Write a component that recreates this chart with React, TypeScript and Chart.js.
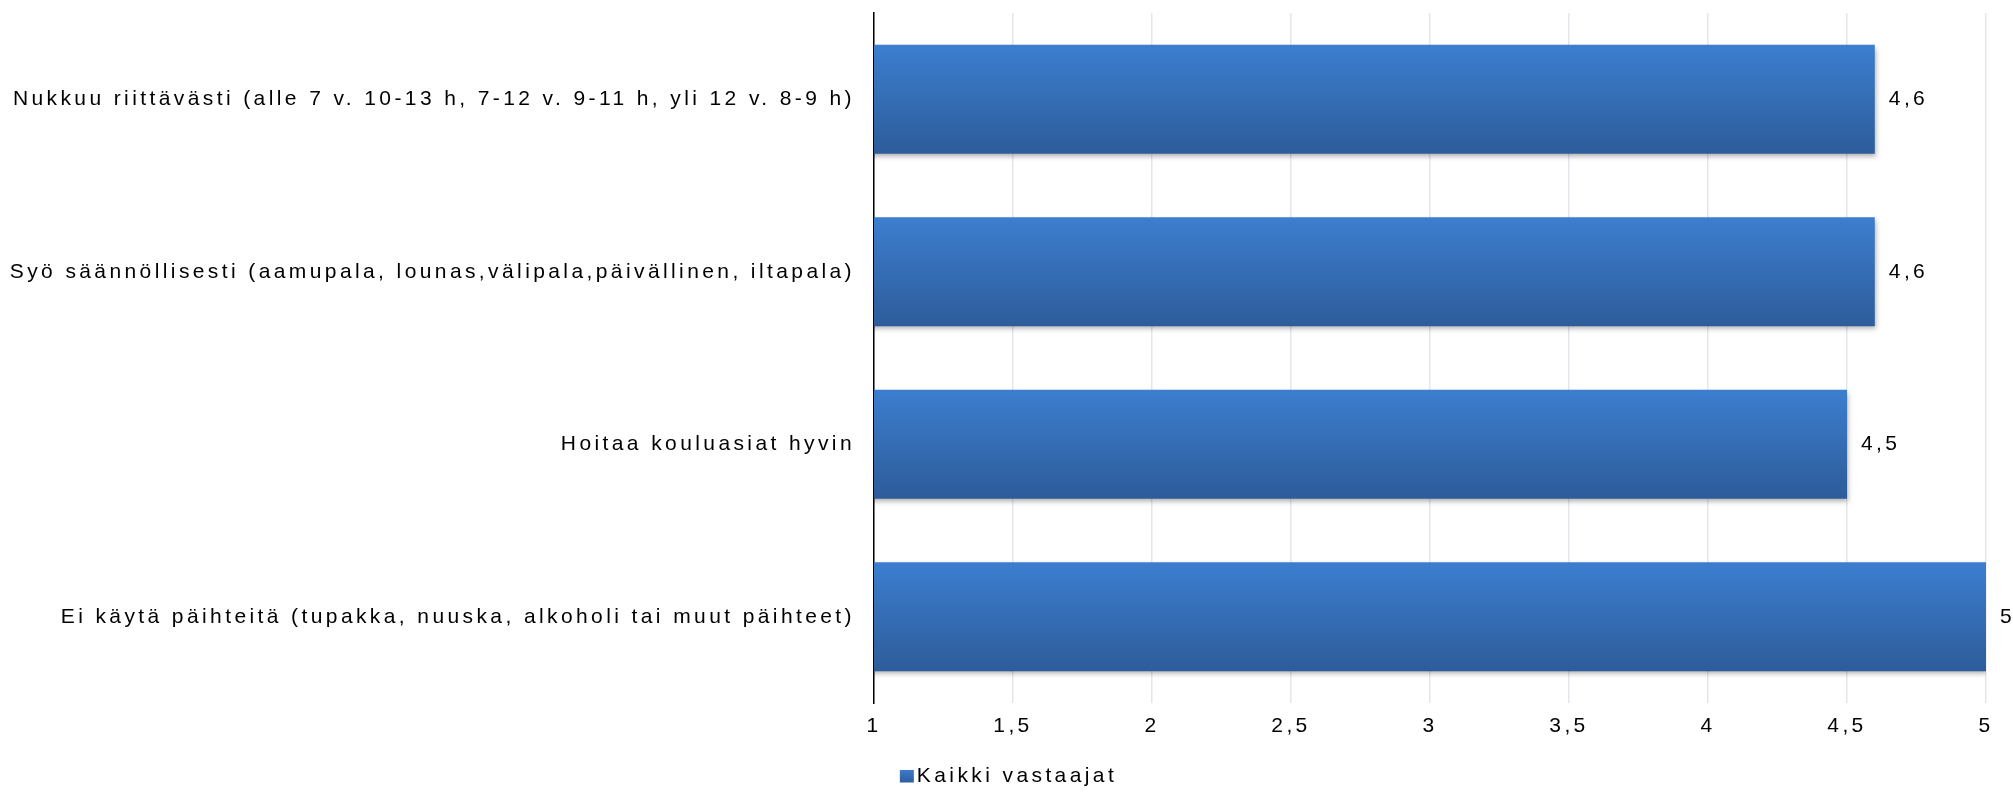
import React, { useEffect, useRef } from "react";
import { Chart, registerables } from "chart.js";

Chart.register(...registerables);

const categories = [
  "Nukkuu riittävästi (alle 7 v. 10-13 h, 7-12 v. 9-11 h, yli 12 v. 8-9 h)",
  "Syö säännöllisesti (aamupala, lounas,välipala,päivällinen, iltapala)",
  "Hoitaa kouluasiat hyvin",
  "Ei käytä päihteitä (tupakka, nuuska, alkoholi tai muut päihteet)",
];
const values = [4.6, 4.6, 4.5, 5];
const seriesName = "Kaikki vastaajat";
const axisMin = 1;
const axisMax = 5;
const axisStep = 0.5;

const W = 2013;
const H = 792;
const FONT_FAMILY = "'Liberation Sans', Arial, sans-serif";
const FONT_SIZE = 21;
const LS = "3.4px";
const BAR_PCT = 0.633;
const TOP_COLOR = "#3c7ecf";
const BOTTOM_COLOR = "#2d5c9a";

const fmt = (v: number) => String(v).replace(".", ",");

const setSpacing = (chart: any) => {
  (chart.ctx as any).letterSpacing = LS;
};

const spacingPlugin = {
  id: "spacing",
  beforeInit: setSpacing,
  beforeUpdate: setSpacing,
  beforeLayout: setSpacing,
  beforeDraw: setSpacing,
};

const barDecor = {
  id: "barDecor",
  beforeDatasetsDraw(chart: any) {
    const ctx = chart.ctx;
    ctx.save();
    ctx.shadowColor = "rgba(0,0,0,0.3)";
    ctx.shadowBlur = 5;
    ctx.shadowOffsetX = 1;
    ctx.shadowOffsetY = 3;
  },
  afterDatasetsDraw(chart: any) {
    const ctx = chart.ctx;
    ctx.restore();
    const meta = chart.getDatasetMeta(0);
    ctx.save();
    (ctx as any).letterSpacing = LS;
    ctx.font = `${FONT_SIZE}px ${FONT_FAMILY}`;
    ctx.fillStyle = "#000";
    ctx.textAlign = "left";
    ctx.textBaseline = "middle";
    meta.data.forEach((bar: any, i: number) => {
      ctx.fillText(fmt(values[i]), bar.x + 14, bar.y);
    });
    ctx.restore();
  },
};

const customLegend = {
  id: "customLegend",
  afterDraw(chart: any) {
    const ctx = chart.ctx;
    ctx.save();
    (ctx as any).letterSpacing = LS;
    ctx.font = `${FONT_SIZE}px ${FONT_FAMILY}`;
    const label = chart.data.datasets[0].label as string;
    const tw = ctx.measureText(label).width;
    const box = 14;
    const gap = 3;
    const total = box + gap + tw;
    const x0 = chart.width / 2 - total / 2 + 2;
    const cy = 776;
    const g = ctx.createLinearGradient(0, cy - box / 2, 0, cy + box / 2);
    g.addColorStop(0, TOP_COLOR);
    g.addColorStop(1, BOTTOM_COLOR);
    ctx.fillStyle = g;
    ctx.fillRect(x0, cy - 6, box, 12.5);
    ctx.fillStyle = "#000";
    ctx.textAlign = "left";
    ctx.textBaseline = "middle";
    ctx.fillText(label, x0 + box + gap, cy);
    ctx.restore();
  },
};

export default function App() {
  const ref = useRef<HTMLCanvasElement | null>(null);
  useEffect(() => {
    document.body.style.margin = "0";
    const canvas = ref.current!;
    const chart = new Chart(canvas, {
      type: "bar",
      data: {
        labels: categories,
        datasets: [
          {
            label: seriesName,
            data: values,
            backgroundColor: (c: any) => {
              const ch = c.chart;
              const y = ch.scales?.y;
              if (!ch.chartArea || !y || c.dataIndex === undefined) return "#3570b8";
              const center = y.getPixelForValue(c.dataIndex);
              const half = ((y.bottom - y.top) / categories.length) * BAR_PCT / 2;
              const g = ch.ctx.createLinearGradient(0, center - half, 0, center + half);
              g.addColorStop(0, TOP_COLOR);
              g.addColorStop(1, BOTTOM_COLOR);
              return g;
            },
            borderWidth: 0,
            categoryPercentage: 1,
            barPercentage: BAR_PCT,
          },
        ],
      },
      options: {
        indexAxis: "y",
        animation: false,
        responsive: false,
        devicePixelRatio: 1,
        layout: { padding: { top: 13, right: 27, left: 0, bottom: 0 } },
        font: { family: FONT_FAMILY, size: FONT_SIZE },
        color: "#000",
        scales: {
          x: {
            type: "linear",
            min: axisMin,
            max: axisMax,
            ticks: {
              stepSize: axisStep,
              callback: (v: any) => fmt(Number(v)),
              color: "#000",
              font: { family: FONT_FAMILY, size: FONT_SIZE },
              padding: 11,
              maxRotation: 0,
            },
            grid: { color: "#e4e6ee", lineWidth: 1.5, drawTicks: false },
            border: { display: false },
            afterFit: (s: any) => {
              s.height = 89;
              s.paddingLeft = 0;
              s.paddingRight = 0;
            },
          },
          y: {
            type: "category",
            ticks: {
              color: "#000",
              font: { family: FONT_FAMILY, size: FONT_SIZE },
              padding: 19,
            },
            grid: { display: false, drawTicks: false },
            border: { display: true, color: "#000", width: 1.5 },
            afterFit: (s: any) => {
              s.width = 874;
              s.paddingTop = 0;
              s.paddingBottom = 0;
            },
          },
        },
        plugins: {
          legend: { display: false },
          tooltip: { enabled: false },
        },
      },
      plugins: [spacingPlugin, barDecor, customLegend],
    } as any);
    return () => chart.destroy();
  }, []);
  return (
    <div style={{ width: W, height: H, background: "#fff" }}>
      <canvas ref={ref} width={W} height={H} style={{ display: "block" }} />
    </div>
  );
}
